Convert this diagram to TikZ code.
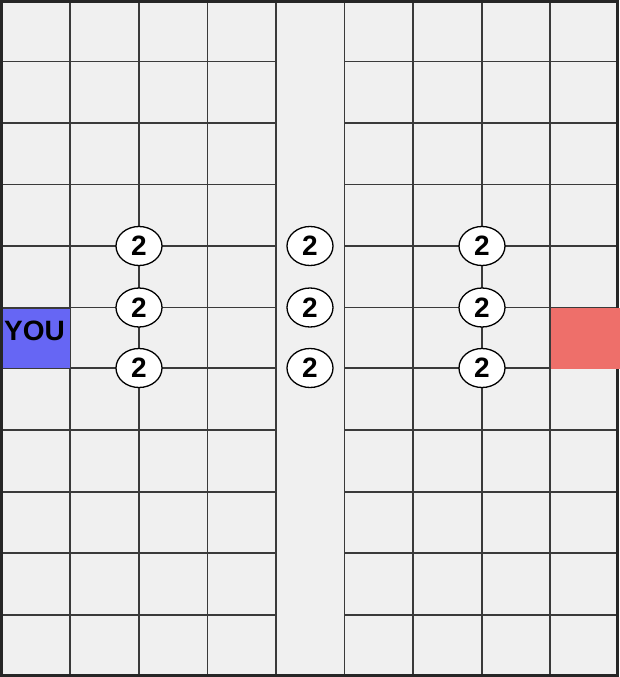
\documentclass[tikz,border=0pt]{standalone}
\usepackage{fontspec}
\setmainfont{Liberation Sans}
\usepackage{tikz}
\usetikzlibrary{shapes.geometric}
\definecolor{boardbg}{HTML}{F0F0F0}
\definecolor{gridfg}{HTML}{3A3A3A}
\definecolor{youblue}{HTML}{6666F4}
\definecolor{foered}{HTML}{EE6F6A}

\begin{document}
\begin{tikzpicture}[
  x=1pt, y=-1pt,
  gridline/.style={draw=gridfg, line width=1.3pt},
  border/.style={draw=black!85, line width=3pt},
  cellbox/.style={draw=gridfg, line width=1pt, inner sep=0pt, anchor=north west,
                  minimum width=68pt, minimum height=60.5pt},
  token/.style={ellipse, draw=black, line width=1.3pt, fill=white, inner sep=0pt,
                minimum width=46pt, minimum height=39pt,
                font=\fontsize{28}{28}\selectfont\bfseries},
]
  \useasboundingbox (0,0) rectangle (619,677);
  \fill[boardbg] (0,0) rectangle (619,677);

  % columns
  \foreach \cx in {70,139,207.5,276,344.5,413,482,550}
    \draw[gridline] (\cx,2) -- (\cx,675);
  % rows, broken by the middle lane
  \foreach \ry in {61.5,123,184.5,246,307.5,368,430,492,553,615} {
    \draw[gridline] (2,\ry) -- (276,\ry);
    \draw[gridline] (344.5,\ry) -- (618,\ry);
  }

  \node[cellbox, fill=youblue] (you) at (2,307.5) {};
  \node[font=\fontsize{28}{28}\selectfont\bfseries] (youlbl) at (34.5,331) {YOU};

  \draw[border] (1.5,1.5) rectangle (617.5,675.5);

  \node[cellbox, fill=foered, draw=none, minimum width=69pt] (foe) at (550,307.5) {};

  % tokens
  \foreach \tx/\col in {139/a,310/b,482/c}
    \foreach \ty/\row in {246/1,307.5/2,368/3}
      \node[token] (tok\col\row) at (\tx,\ty) {2};
\end{tikzpicture}
\end{document}
